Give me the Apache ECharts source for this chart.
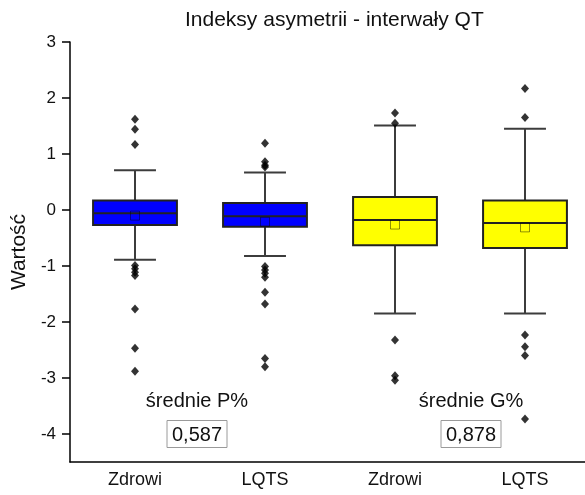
<!DOCTYPE html>
<html>
<head>
<meta charset="utf-8">
<script src="https://cdn.jsdelivr.net/npm/echarts@6/dist/echarts.min.js"></script>
<style>
  html, body { margin: 0; padding: 0; background: #fff; }
  #chart { width: 585px; height: 495px; }
</style>
</head>
<body>
<div id="chart"></div>
<script>
// Groups on the x axis
const categories = ['Zdrowi', 'LQTS', 'Zdrowi', 'LQTS'];

// Box statistics per group
const whiskerLow  = [-0.89, -0.82, -1.85, -1.85];
const q1          = [-0.27, -0.30, -0.63, -0.68];
const median      = [-0.06, -0.11, -0.18, -0.23];
const q3          = [0.17, 0.125, 0.23, 0.17];
const whiskerHigh = [0.71, 0.67, 1.51, 1.45];
const means       = [-0.10, -0.21, -0.26, -0.31];

// Points beyond the whiskers
const outliers = [
  [1.62, 1.44, 1.17, -0.99, -1.05, -1.11, -1.17, -1.77, -2.47, -2.88],
  [1.19, 0.86, 0.80, 0.77, -1.01, -1.07, -1.13, -1.20, -1.47, -1.68, -2.65, -2.80],
  [1.73, 1.55, -2.32, -2.96, -3.04],
  [2.17, 1.65, -2.23, -2.44, -2.60, -3.73]
];

// Y axis ticks
const yTickValues = [-4, -3, -2, -1, 0, 1, 2, 3];
const yMinorTickValues = [-3.5, -2.5, -1.5, -0.5, 0.5, 1.5, 2.5];

// Group averages printed under the boxes
const avgLabels = ['średnie P%', 'średnie G%'];
const avgValues = ['0,587', '0,878'];

const boxColors = ['#0000ff', '#0000ff', '#ffff00', '#ffff00'];
const FONT = '"Liberation Sans", Arial, sans-serif';

const boxData = categories.map((_, i) =>
  [i, whiskerLow[i], q1[i], median[i], q3[i], whiskerHigh[i]]);
const outlierData = [];
outliers.forEach((vals, i) => vals.forEach(v => outlierData.push([i, v])));
const meanData = means.map((v, i) => [i, v]);

function renderBox(params, api) {
  const i = api.value(0);
  const lo = api.coord([i, api.value(1)]);
  const a = api.coord([i, api.value(2)]);
  const m = api.coord([i, api.value(3)]);
  const b = api.coord([i, api.value(4)]);
  const hi = api.coord([i, api.value(5)]);
  const band = api.size([1, 0])[0];
  const bw = band * 0.645;
  const cap = bw / 2;
  const cx = lo[0];
  const whisker = { stroke: '#3c3c3c', lineWidth: 2 };
  return {
    type: 'group',
    children: [
      { type: 'line', shape: { x1: cx, y1: hi[1], x2: cx, y2: b[1] }, style: whisker },
      { type: 'line', shape: { x1: cx, y1: a[1], x2: cx, y2: lo[1] }, style: whisker },
      { type: 'line', shape: { x1: cx - cap / 2, y1: hi[1], x2: cx + cap / 2, y2: hi[1] }, style: whisker },
      { type: 'line', shape: { x1: cx - cap / 2, y1: lo[1], x2: cx + cap / 2, y2: lo[1] }, style: whisker },
      { type: 'rect', shape: { x: cx - bw / 2, y: b[1], width: bw, height: a[1] - b[1] },
        style: { fill: boxColors[i], stroke: '#222', lineWidth: 2 } },
      { type: 'line', shape: { x1: cx - bw / 2, y1: m[1], x2: cx + bw / 2, y2: m[1] },
        style: { stroke: '#222', lineWidth: 2 } }
    ]
  };
}

// Average annotations: heading text plus framed value
const annotationCenters = [[197, 401, 434], [471, 401, 434]];
const graphics = [];
avgLabels.forEach((label, k) => {
  const [cx, hy, by] = annotationCenters[k];
  graphics.push({
    type: 'text', x: cx, y: hy,
    style: { text: label, font: '20px ' + FONT, fill: '#111', align: 'center', verticalAlign: 'middle' },
    z: 10
  });
  graphics.push({
    type: 'rect', shape: { x: cx - 30, y: by - 13.5, width: 60, height: 27 },
    style: { fill: '#fff', stroke: '#9a9a9a', lineWidth: 1 }, z: 10
  });
  graphics.push({
    type: 'text', x: cx, y: by + 1,
    style: { text: avgValues[k], font: '20px ' + FONT, fill: '#111', align: 'center', verticalAlign: 'middle' },
    z: 11
  });
});

const chart = echarts.init(document.getElementById('chart'), null, { renderer: 'canvas' });
chart.setOption({
  animation: false,
  backgroundColor: '#fff',
  textStyle: { fontFamily: FONT },
  title: {
    text: 'Indeksy asymetrii - interwały QT',
    left: 180, top: 5,
    textStyle: { fontFamily: FONT, fontSize: 21, fontWeight: 'normal', color: '#111' }
  },
  grid: { left: 70, right: -5, top: 42, bottom: 33, outerBoundsMode: 'none' },
  xAxis: {
    type: 'category',
    data: categories,
    boundaryGap: true,
    axisLine: { onZero: false, lineStyle: { color: '#000', width: 1.5 } },
    axisTick: { alignWithLabel: true, length: 8, lineStyle: { color: '#000', width: 1.5 } },
    axisLabel: { fontFamily: FONT, fontSize: 18, color: '#111', margin: 9 },
    splitLine: { show: false }
  },
  yAxis: [
    {
      type: 'value', min: -4.5, max: 3,
      name: 'Wartość', nameLocation: 'middle', nameGap: 31, nameRotate: 90,
      nameTextStyle: { fontFamily: FONT, fontSize: 21, color: '#111' },
      axisLine: { show: true, lineStyle: { color: '#000', width: 1.5 } },
      axisTick: { show: true, length: 8, customValues: yTickValues, lineStyle: { color: '#000', width: 1.5 } },
      axisLabel: { customValues: yTickValues, fontFamily: FONT, fontSize: 17, color: '#111', margin: 14 },
      splitLine: { show: false }
    },
    {
      type: 'value', min: -4.5, max: 3,
      axisLine: { show: false },
      axisTick: { show: true, length: 4, customValues: yMinorTickValues, lineStyle: { color: '#000', width: 1.5 } },
      axisLabel: { show: false },
      splitLine: { show: false }
    }
  ],
  series: [
    {
      type: 'custom',
      renderItem: renderBox,
      data: boxData,
      encode: { x: 0, y: [1, 2, 3, 4, 5] },
      z: 2
    },
    {
      type: 'scatter',
      data: outlierData,
      symbol: 'diamond',
      symbolSize: [8, 9],
      itemStyle: { color: '#000' },
      z: 3
    },
    {
      type: 'scatter',
      data: meanData,
      symbol: 'rect',
      symbolSize: 9,
      itemStyle: { color: 'rgba(0,0,0,0)', borderColor: 'rgba(0,0,0,0.55)', borderWidth: 1 },
      z: 4
    }
  ],
  graphic: graphics
});
</script>
</body>
</html>
